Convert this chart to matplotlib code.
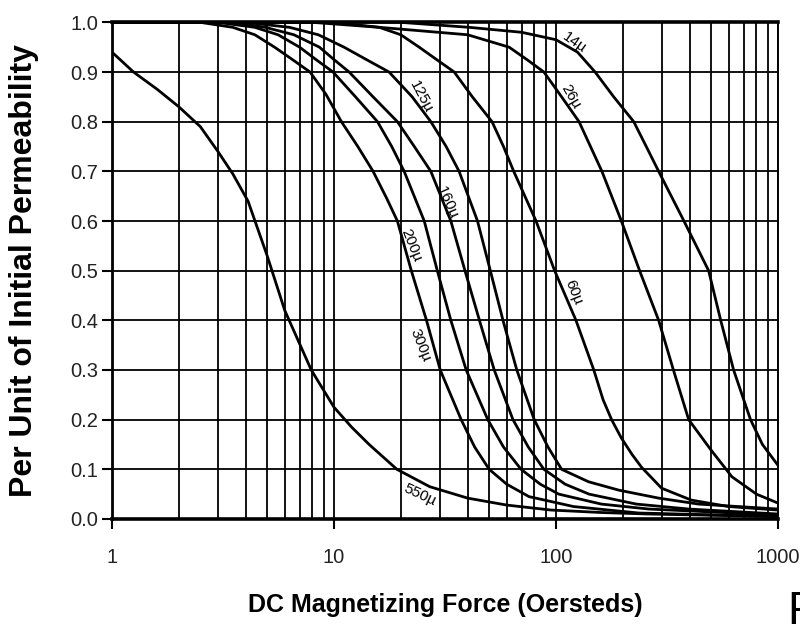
import matplotlib
matplotlib.use("Agg")
import matplotlib.pyplot as plt
import matplotlib.ticker as ticker

# per unit permeability vs DC magnetizing force
h_550 = [1, 1.25, 1.6, 2.0, 2.5, 3.0, 3.5, 4.1, 5.0, 6.0, 7.9, 10, 12, 14.4, 19.2, 27, 40, 60, 95, 160, 260, 1000]
mu_550 = [0.94, 0.90, 0.865, 0.83, 0.79, 0.74, 0.695, 0.64, 0.53, 0.42, 0.30, 0.225, 0.185, 0.15, 0.10, 0.065,
          0.042, 0.028, 0.018, 0.013, 0.010, 0.005]

h_300 = [1, 2.5, 3.5, 4.4, 5.4, 6.5, 7.8, 9.2, 10.8, 12.8, 15.0, 17.3, 19.3, 22.3, 26.1, 30.1, 37.4, 43, 50, 60,
         75.6, 120, 236, 1000]
mu_300 = [1.0, 1.0, 0.99, 0.975, 0.95, 0.925, 0.90, 0.855, 0.80, 0.75, 0.70, 0.645, 0.60, 0.50, 0.40, 0.30, 0.20,
          0.145, 0.10, 0.07, 0.045, 0.025, 0.012, 0.005]

h_200 = [1, 3, 4.4, 5.6, 7.0, 8.3, 9.9, 12.5, 15.7, 18.2, 20.7, 25.5, 29.2, 33.6, 39.4, 49.3, 58, 69.6, 85, 103,
         160, 262, 1000]
mu_200 = [1.0, 1.0, 0.99, 0.975, 0.95, 0.925, 0.90, 0.85, 0.80, 0.75, 0.70, 0.60, 0.50, 0.40, 0.30, 0.20, 0.145,
          0.10, 0.07, 0.05, 0.03, 0.02, 0.008]

h_160 = [1, 3.5, 4.9, 6.6, 8.6, 10, 11.7, 15, 19.3, 23, 27.3, 33.6, 38.9, 45.2, 52.7, 64.0, 75, 88.2, 110, 141,
         230, 396, 1000]
mu_160 = [1.0, 1.0, 0.99, 0.975, 0.95, 0.925, 0.90, 0.85, 0.80, 0.75, 0.70, 0.60, 0.50, 0.40, 0.30, 0.20, 0.145,
          0.10, 0.07, 0.05, 0.03, 0.02, 0.01]

h_125 = [1, 4, 6.3, 8.5, 11.1, 14, 17.7, 22.5, 27.3, 32, 36.6, 44.3, 50.6, 57.7, 66.6, 79.8, 92, 106, 140, 192,
         290, 439, 1000]
mu_125 = [1.0, 1.0, 0.99, 0.975, 0.95, 0.925, 0.90, 0.85, 0.80, 0.75, 0.70, 0.60, 0.50, 0.40, 0.30, 0.20, 0.145,
          0.10, 0.075, 0.058, 0.042, 0.03, 0.02]

h_60 = [1, 10, 16, 20, 24.2, 29, 34.8, 42, 51.5, 58, 64.5, 81.3, 98.6, 123, 148, 163, 178, 197, 220, 243, 299,
        407, 600, 1000]
mu_60 = [1.0, 1.0, 0.99, 0.975, 0.95, 0.925, 0.90, 0.85, 0.80, 0.75, 0.70, 0.60, 0.50, 0.40, 0.30, 0.24, 0.20,
         0.163, 0.13, 0.104, 0.062, 0.038, 0.025, 0.018]

h_26 = [1, 8, 16, 40, 61.5, 74, 88.2, 106, 127, 143, 161, 197, 238, 290, 338, 396, 497, 620, 800, 1000]
mu_26 = [1.0, 1.0, 0.99, 0.975, 0.95, 0.925, 0.90, 0.85, 0.80, 0.75, 0.70, 0.60, 0.50, 0.40, 0.30, 0.20, 0.14,
         0.085, 0.05, 0.032]

h_14 = [1, 20, 40.6, 70, 100, 125, 150, 182, 224, 255, 290, 377, 487, 552, 631, 752, 851, 1000]
mu_14 = [1.0, 1.0, 0.99, 0.98, 0.965, 0.94, 0.90, 0.85, 0.80, 0.75, 0.70, 0.60, 0.50, 0.40, 0.30, 0.20, 0.15,
         0.108]

curves = [(h_14, mu_14), (h_26, mu_26), (h_60, mu_60), (h_125, mu_125),
          (h_160, mu_160), (h_200, mu_200), (h_300, mu_300), (h_550, mu_550)]

# curve labels
label_text = ["14\u00b5", "26\u00b5", "60\u00b5", "125\u00b5", "160\u00b5", "200\u00b5", "300\u00b5", "550\u00b5"]
label_h = [121, 117, 120, 24.7, 32.4, 22.3, 24.5, 24.3]
label_mu = [0.96, 0.85, 0.457, 0.85, 0.636, 0.552, 0.35, 0.048]
label_rot = [-35, -60, -68, -62, -66, -68, -68, -25]

x_ticks = [1, 10, 100, 1000]
x_tick_labels = ["1", "10", "100", "1000"]
y_ticks = [0.0, 0.1, 0.2, 0.3, 0.4, 0.5, 0.6, 0.7, 0.8, 0.9, 1.0]

plt.rcParams['font.family'] = ['Liberation Sans', 'DejaVu Sans']

fig = plt.figure(figsize=(8, 6.28), dpi=100)
ax = fig.add_axes([0.14, 0.1736, 0.8325, 0.7908])

for h, mu in curves:
    ax.plot(h, mu, color='black', lw=2.0, solid_joinstyle='round')

for i in range(len(label_text)):
    ax.text(label_h[i], label_mu[i], label_text[i], rotation=label_rot[i],
            rotation_mode='anchor', ha='center', va='center', fontsize=11)

ax.set_xscale('log')
ax.set_xlim(1, 1000)
ax.set_ylim(0, 1)

ax.set_xticks(x_ticks)
ax.set_xticklabels(x_tick_labels)
ax.xaxis.set_minor_locator(ticker.LogLocator(base=10, subs=range(2, 10)))
ax.xaxis.set_minor_formatter(ticker.NullFormatter())
ax.set_yticks(y_ticks)
ax.yaxis.set_major_formatter(ticker.FormatStrFormatter('%.1f'))

ax.grid(True, which='both', axis='x', color='black', lw=1.3)
ax.grid(True, which='major', axis='y', color='black', lw=1.3)

ax.tick_params(axis='x', which='minor', length=0)
ax.tick_params(axis='both', which='major', length=7, width=1.5, color='black',
               labelsize=14.5, labelcolor='#222222')
ax.tick_params(axis='x', which='major', pad=14)
ax.tick_params(axis='y', which='major', pad=3)

ax.spines['top'].set_linewidth(2.6)
ax.spines['bottom'].set_linewidth(2.6)
ax.spines['left'].set_linewidth(2.0)
ax.spines['right'].set_linewidth(1.4)

ax.set_xlabel("DC Magnetizing Force (Oersteds)", fontsize=18, fontweight='bold')
ax.xaxis.set_label_coords(0.5, -0.15)
ax.set_ylabel("Per Unit of Initial Permeability", fontsize=23, fontweight='bold')
ax.yaxis.set_label_coords(-0.11, 0.5)

# cut off letter at the right edge of the page
fig.text(0.984, 0.006, "R", fontsize=33, ha='left', va='baseline')

fig.savefig("out.png", dpi=100)
